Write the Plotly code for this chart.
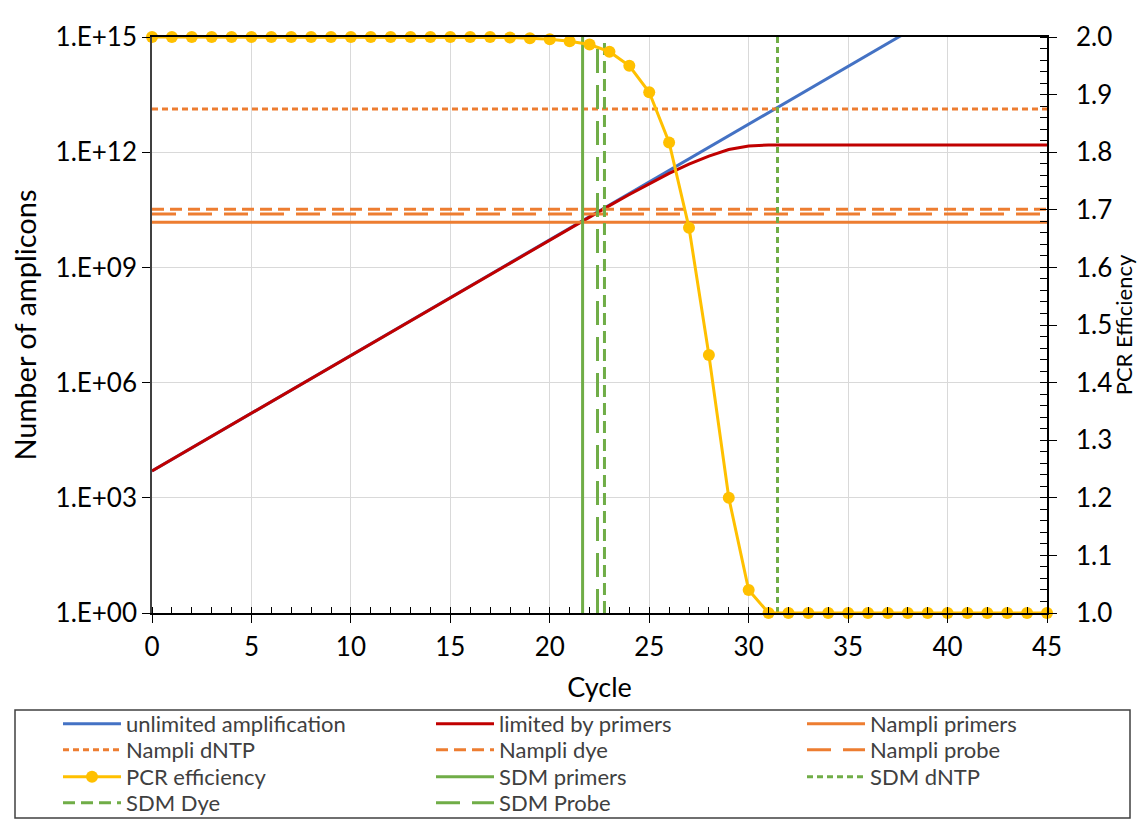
import plotly.graph_objects as go

# ---------------- data ----------------
cycles = list(range(0, 46))

unlimited_x = [0, 45]
unlimited_y = [5.01e3, 1.76e17]

limited_x = [0, 20, 21, 22, 23, 24, 25, 26, 27, 28, 29, 30, 31, 45]
limited_y = [5.01e3, 5.25e9, 1.05e10, 2.09e10, 4.07e10, 7.94e10, 1.51e11,
             2.82e11, 4.90e11, 7.94e11, 1.17e12, 1.45e12, 1.55e12, 1.55e12]

efficiency = [2.0] * 18 + [1.999, 1.998, 1.996, 1.9925, 1.987, 1.9745, 1.950,
                           1.904, 1.817, 1.669, 1.448, 1.200, 1.040] + [1.0] * 15

nampli_names = ["Nampli primers", "Nampli dNTP", "Nampli dye", "Nampli probe"]
nampli_values = [1.5e10, 1.33e13, 3.25e10, 2.45e10]

sdm_names = ["SDM primers", "SDM dNTP", "SDM Dye", "SDM Probe"]
sdm_values = [21.65, 31.45, 22.75, 22.4]

y_tickvals = [1, 1e3, 1e6, 1e9, 1e12, 1e15]
y_ticktext = ["1.E+00", "1.E+03", "1.E+06", "1.E+09", "1.E+12", "1.E+15"]

# ---------------- styles ----------------
BLUE = "#4472C4"
RED = "#C00000"
ORANGE = "#ED7D31"
YELLOW = "#FFC000"
GREEN = "#70AD47"
dash_styles = ["solid", "6px,4px", "12px,6px", "24px,12px"]
FONT = "Lato, 'Open Sans', sans-serif"

fig = go.Figure()

fig.add_trace(go.Scatter(x=unlimited_x, y=unlimited_y, mode="lines",
                         name="unlimited amplification", showlegend=True,
                         line=dict(color=BLUE, width=3)))
fig.add_trace(go.Scatter(x=limited_x, y=limited_y, mode="lines",
                         name="limited by primers", showlegend=True,
                         line=dict(color=RED, width=3)))
for name, val, dash in zip(nampli_names, nampli_values, dash_styles):
    fig.add_trace(go.Scatter(x=[0, 45], y=[val, val], mode="lines", name=name,
                             showlegend=True,
                             line=dict(color=ORANGE, width=3, dash=dash)))
fig.add_trace(go.Scatter(x=cycles, y=efficiency, mode="lines+markers",
                         name="PCR efficiency", yaxis="y2", cliponaxis=False,
                         showlegend=True,
                         line=dict(color=YELLOW, width=3),
                         marker=dict(color=YELLOW, size=12)))
for name, val, dash in zip(sdm_names, sdm_values, dash_styles):
    fig.add_trace(go.Scatter(x=[val, val], y=[1, 1e15], mode="lines", name=name,
                             showlegend=True,
                             line=dict(color=GREEN, width=3, dash=dash)))

# one legend per entry, laid out as a 3-column grid (row-wise order)
col_x = [58, 431, 802]
row_y = [723, 749, 776, 802]
legend_layouts = {}
for i, tr in enumerate(fig.data):
    key = "legend" if i == 0 else f"legend{i + 1}"
    tr.legend = key
    r, c = divmod(i, 3)
    legend_layouts[key] = dict(
        orientation="h",
        xref="container", yref="container",
        x=col_x[c] / 1137, y=1 - (row_y[r] - 20) / 827,
        xanchor="left", yanchor="top",
        itemwidth=58,
        font=dict(family=FONT, size=22, color="#404040"),
        bgcolor="rgba(0,0,0,0)", borderwidth=0,
    )

fig.update_layout(
    width=1137, height=827,
    showlegend=True,
    margin=dict(l=152, r=90, t=37, b=214),
    paper_bgcolor="white", plot_bgcolor="white",
    font=dict(family=FONT, color="#000000", size=26),
    xaxis=dict(
        range=[0, 45], dtick=5, tick0=0,
        showgrid=True, gridcolor="#d9d9d9", gridwidth=1,
        showline=True, linecolor="#000000", linewidth=1.5, mirror=True,
        ticks="outside", ticklen=8, tickcolor="#000000",
        ticklabelstandoff=2,
        minor=dict(dtick=1, ticks="inside", ticklen=6, tickcolor="#000000", showgrid=False),
        zeroline=False,
        title=dict(text="Cycle", font=dict(size=27), standoff=18),
        automargin=False,
    ),
    yaxis=dict(
        type="log", range=[0, 15],
        tickvals=y_tickvals, ticktext=y_ticktext,
        showgrid=True, gridcolor="#d9d9d9", gridwidth=1,
        showline=True, linecolor="#404040", linewidth=1.5,
        ticks="outside", ticklen=8, tickcolor="#000000",
        zeroline=False,
        title=dict(text="Number of amplicons", font=dict(size=29), standoff=10),
        automargin=False,
    ),
    yaxis2=dict(
        overlaying="y", side="right", range=[1.0, 2.0],
        dtick=0.1, tick0=1.0, tickformat=".1f",
        showgrid=False, zeroline=False,
        showline=True, linecolor="#000000", linewidth=1.5,
        ticks="outside", ticklen=8, tickcolor="#000000",
        ticklabelstandoff=14,
        minor=dict(dtick=0.02, ticks="inside", ticklen=7, tickcolor="#000000"),
        title=dict(text="PCR Efficiency", font=dict(size=22), standoff=30),
        automargin=False,
    ),
    shapes=[dict(type="rect", xref="paper", yref="paper",
                 x0=(15 - 152) / 895, x1=(1130 - 152) / 895,
                 y0=(613 - 818) / 576, y1=(613 - 710) / 576,
                 line=dict(color="#404040", width=1.5), fillcolor="rgba(0,0,0,0)",
                 layer="below")],
    **legend_layouts,
)

fig.write_html("out.html")
